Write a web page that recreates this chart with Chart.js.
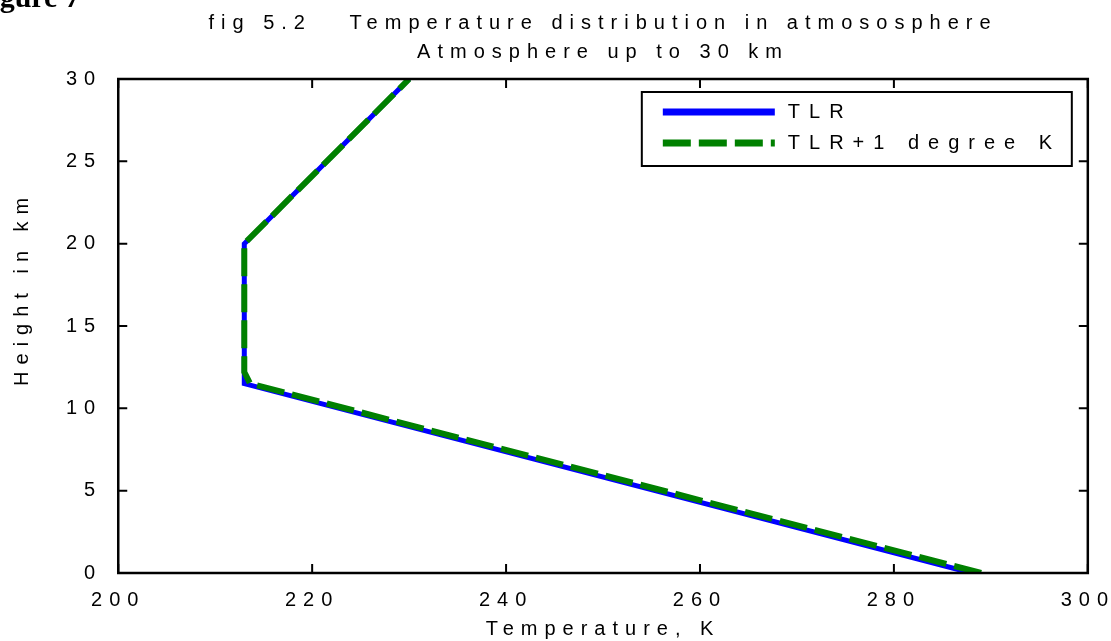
<!DOCTYPE html>
<html>
<head>
<meta charset="utf-8">
<script src="https://cdn.jsdelivr.net/npm/chart.js@4"></script>
<style>
  html, body { margin: 0; padding: 0; background: #fff; overflow: hidden; }
  #wrap { width: 1130px; height: 641px; position: relative; }
</style>
</head>
<body>
<div id="wrap"><canvas id="tempChart"></canvas></div>
<script>
// data
const tlrHeight = [0, 11.5, 20, 30];
const tlrTemp = [288, 213, 213, 230];
const tlrPlusHeight = [0, 11.5, 12.2, 20, 30];
const tlrPlusTemp = [289, 213.6, 213, 213, 230];
const seriesLabels = ["TLR", "TLR+1 degree K"];
const titleLines = ["fig 5.2   Temperature distribution in atmososphere", "Atmosphere up to 30 km"];
const xTitle = "Temperature, K";
const yTitle = "Height in km";

const FONT = "'Liberation Sans', Arial, sans-serif";
const SPACING = "7px";

const toPoints = (xs, ys) => xs.map((x, i) => ({ x: x, y: ys[i] }));

// spread letters like the original plot
const spacingPlugin = {
  id: "spacing",
  beforeUpdate(chart) { chart.ctx.letterSpacing = SPACING; },
  beforeRender(chart) { chart.ctx.letterSpacing = SPACING; },
  beforeDraw(chart) { chart.ctx.letterSpacing = SPACING; },
};

// frame + inward ticks on all four sides
const framePlugin = {
  id: "frame",
  afterDatasetsDraw(chart) {
    const { ctx, chartArea: a, scales } = chart;
    const len = 9;
    ctx.save();
    ctx.strokeStyle = "#000";
    ctx.lineWidth = 2;
    scales.x.ticks.forEach((t) => {
      const px = scales.x.getPixelForValue(t.value);
      ctx.beginPath();
      ctx.moveTo(px, a.bottom); ctx.lineTo(px, a.bottom - len);
      ctx.moveTo(px, a.top); ctx.lineTo(px, a.top + len);
      ctx.stroke();
    });
    scales.y.ticks.forEach((t) => {
      const py = scales.y.getPixelForValue(t.value);
      ctx.beginPath();
      ctx.moveTo(a.left, py); ctx.lineTo(a.left + len, py);
      ctx.moveTo(a.right, py); ctx.lineTo(a.right - len, py);
      ctx.stroke();
    });
    ctx.lineWidth = 2.5;
    ctx.strokeRect(a.left, a.top, a.right - a.left, a.bottom - a.top);
    ctx.restore();
  },
};

// boxed legend inside the top right of the plot
const boxLegendPlugin = {
  id: "boxLegend",
  afterDraw(chart) {
    const { ctx, chartArea: a } = chart;
    const w = 430, h = 74;
    const left = a.right - 16 - w, top = a.top + 13;
    ctx.save();
    ctx.fillStyle = "#fff";
    ctx.fillRect(left, top, w, h);
    ctx.strokeStyle = "#000";
    ctx.lineWidth = 2;
    ctx.strokeRect(left, top, w, h);
    chart.data.datasets.forEach((ds, i) => {
      const y = top + 20 + i * 31;
      ctx.strokeStyle = ds.borderColor;
      ctx.lineWidth = 7;
      ctx.setLineDash(ds.borderDash || []);
      ctx.beginPath();
      ctx.moveTo(left + 21, y);
      ctx.lineTo(left + 133, y);
      ctx.stroke();
      ctx.setLineDash([]);
      ctx.fillStyle = "#000";
      ctx.font = "20px " + FONT;
      ctx.textBaseline = "middle";
      ctx.letterSpacing = "9px";
      ctx.fillText(ds.label, left + 146, y);
    });
    // bit of the page caption that the crop cut off
    ctx.letterSpacing = "0px";
    ctx.font = "bold 30px 'Liberation Serif', serif";
    ctx.textBaseline = "alphabetic";
    ctx.fillText("Figure 7", -27, 7);
    ctx.restore();
  },
};

new Chart(document.getElementById("tempChart"), {
  type: "line",
  data: {
    datasets: [
      {
        label: seriesLabels[0],
        data: toPoints(tlrTemp, tlrHeight),
        borderColor: "#0000ff",
        borderWidth: 5,
        pointRadius: 0,
        tension: 0,
        order: 2,
      },
      {
        label: seriesLabels[1],
        data: toPoints(tlrPlusTemp, tlrPlusHeight),
        borderColor: "#008000",
        borderWidth: 6,
        borderDash: [28, 8],
        pointRadius: 0,
        tension: 0,
        order: 1,
      },
    ],
  },
  options: {
    responsive: true,
    maintainAspectRatio: false,
    animation: false,
    layout: { padding: { left: 10, right: 0, top: 9, bottom: 0 } },
    plugins: {
      legend: { display: false },
      tooltip: { enabled: false },
      title: {
        display: true,
        fullSize: false,
        text: titleLines,
        color: "#000",
        font: { family: FONT, size: 20, weight: "normal", lineHeight: 1.45 },
        padding: { top: 0, bottom: 12 },
      },
    },
    scales: {
      x: {
        type: "linear",
        min: 200,
        max: 300,
        grid: { display: false, drawTicks: false },
        border: { display: false },
        ticks: { stepSize: 20, color: "#000", padding: 15, maxRotation: 0, font: { family: FONT, size: 20 } },
        title: { display: true, text: xTitle, color: "#000", padding: { top: -10, bottom: 0 }, font: { family: FONT, size: 20 } },
      },
      y: {
        type: "linear",
        min: 0,
        max: 30,
        grid: { display: false, drawTicks: false },
        border: { display: false },
        ticks: { stepSize: 5, color: "#000", padding: 16, font: { family: FONT, size: 20 } },
        title: { display: true, text: "      " + yTitle, color: "#000", padding: { top: 0, bottom: 16 }, font: { family: FONT, size: 20 } },
      },
    },
  },
  plugins: [spacingPlugin, framePlugin, boxLegendPlugin],
});
</script>
</body>
</html>
